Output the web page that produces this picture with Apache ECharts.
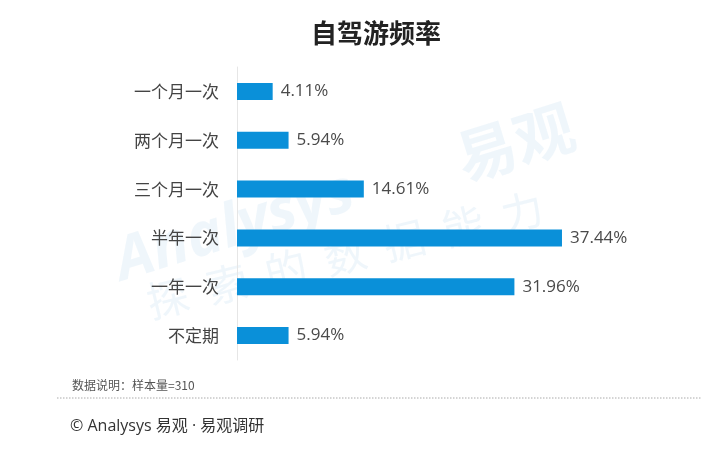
<!DOCTYPE html>
<html>
<head>
<meta charset="utf-8">
<script src="https://cdn.jsdelivr.net/npm/echarts@6/dist/echarts.min.js"></script>
<style>
html,body{margin:0;padding:0;background:#fff;}
#main{width:702px;height:458px;}
</style>
</head>
<body>
<div id="main"></div>
<script>
// 数据
var categories = ['一个月一次', '两个月一次', '三个月一次', '半年一次', '一年一次', '不定期'];
var values = [4.11, 5.94, 14.61, 37.44, 31.96, 5.94];

var cjk = '"Noto Sans CJK SC", "Noto Sans", sans-serif';
var latin = '"Open Sans", "Noto Sans CJK SC", sans-serif';
var wmColor = 'rgba(205,228,244,0.32)';

var chart = echarts.init(document.getElementById('main'));

chart.setOption({
    backgroundColor: '#fff',
    animation: false,
    grid: {
        left: 237,
        right: 31,
        top: 67,
        bottom: 98
    },
    xAxis: {
        type: 'value',
        min: 0,
        max: 50,
        show: false
    },
    yAxis: {
        type: 'category',
        data: categories,
        inverse: true,
        axisLine: {show: true, lineStyle: {color: '#e6e6e6', width: 1}},
        axisTick: {show: false},
        axisLabel: {
            color: '#444',
            fontSize: 17,
            fontFamily: cjk,
            margin: 18
        }
    },
    graphic: [
        // 水印
        {
            type: 'text', z: 0, x: 235, y: 228, rotation: 0.3,
            style: {text: 'Analysys', font: 'italic bold 60px "Open Sans", sans-serif', fill: wmColor, align: 'center', verticalAlign: 'middle'}
        },
        {
            type: 'text', z: 0, x: 515, y: 142, rotation: 0.3,
            style: {text: '易观', font: 'bold 60px "Noto Sans CJK SC", sans-serif', fill: wmColor, align: 'center', verticalAlign: 'middle'}
        },
        {
            type: 'text', z: 0, x: 345, y: 255, rotation: 0.24,
            style: {text: '探  索  的  数  据  能  力', font: '42px "Noto Sans CJK SC", sans-serif', fill: wmColor, align: 'center', verticalAlign: 'middle'}
        },
        // 标题
        {
            type: 'text', left: 311, top: 20,
            style: {text: '自驾游频率', font: 'bold 26px "Noto Sans CJK SC", sans-serif', fill: '#222'}
        },
        // 说明
        {
            type: 'text', left: 72, top: 379,
            style: {text: '数据说明：样本量=310', font: '12px "Noto Sans CJK SC", sans-serif', fill: '#555'}
        },
        {
            type: 'line', shape: {x1: 57, y1: 398, x2: 702, y2: 398},
            style: {stroke: '#aaa', lineWidth: 1, lineDash: [1.5, 1.5]}
        },
        {
            type: 'text', left: 70, top: 418,
            style: {text: '© Analysys 易观 · 易观调研', font: '16px "Open Sans", "Noto Sans CJK SC", sans-serif', fill: '#333'}
        }
    ],
    series: [{
        type: 'bar',
        data: values,
        barWidth: 17,
        z: 3,
        itemStyle: {color: '#0a90d9'},
        label: {
            show: true,
            position: 'right',
            distance: 8,
            color: '#4a4a4a',
            fontSize: 17,
            fontFamily: latin,
            formatter: function (p) { return p.value.toFixed(2) + '%'; }
        }
    }]
});
</script>
</body>
</html>
